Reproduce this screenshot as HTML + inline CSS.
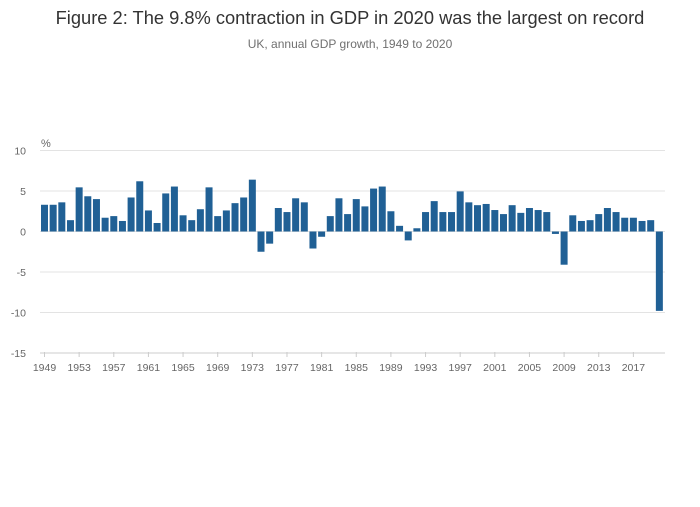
<!DOCTYPE html>
<html><head><meta charset="utf-8"><style>
body{margin:0;background:#fff;font-family:"Liberation Sans",sans-serif}
</style></head><body>
<svg id="c" width="700" height="502" xmlns="http://www.w3.org/2000/svg">
<text x="350" y="24" text-anchor="middle" font-size="18.3" fill="#333">Figure 2: The 9.8% contraction in GDP in 2020 was the largest on record</text>
<text x="350" y="48" text-anchor="middle" font-size="12" fill="#707070">UK, annual GDP growth, 1949 to 2020</text>
<text x="41" y="147" font-size="11" fill="#666">%</text>
<g id="grid"></g><g id="bars"></g><g id="xaxis"></g>
</svg>
<script>
const years=[];for(let y=1949;y<=2020;y++)years.push(y);
const growth=[3.3,3.3,3.6,1.4,5.45,4.35,4.0,1.7,1.9,1.3,4.2,6.2,2.6,1.05,4.7,5.55,2.0,1.4,2.75,5.45,1.9,2.6,3.5,4.2,6.4,-2.5,-1.5,2.9,2.4,4.1,3.6,-2.1,-0.65,1.9,4.1,2.15,4.0,3.1,5.3,5.55,2.5,0.7,-1.1,0.4,2.4,3.75,2.4,2.4,4.95,3.6,3.25,3.4,2.65,2.15,3.25,2.3,2.9,2.65,2.4,-0.3,-4.1,2.0,1.3,1.4,2.15,2.9,2.4,1.7,1.7,1.3,1.4,-9.8];
const yTicks=[10,5,0,-5,-10,-15];
const NS="http://www.w3.org/2000/svg";
const yS=v=>231.5-v*8.1;
const x0=44.5,step=8.66;
const xS=i=>x0+i*step;
const mk=(t,a,p)=>{const e=document.createElementNS(NS,t);for(const k in a)e.setAttribute(k,a[k]);p.appendChild(e);return e;};
const grid=document.getElementById('grid'),bars=document.getElementById('bars'),xa=document.getElementById('xaxis');
yTicks.forEach(v=>{
 const l=mk('line',{x1:40,x2:665,y1:yS(v),y2:yS(v),stroke:v===-15?'#ccc':'#e3e3e3','stroke-width':1},grid);
 
 
 const t=mk('text',{x:26,y:yS(v)+4,'text-anchor':'end','font-size':10.5,fill:'#666'},grid);
 t.textContent=v;
 
 
});
growth.forEach((v,i)=>{
 const top=Math.min(yS(v),yS(0)),h=Math.abs(yS(v)-yS(0));
 const r=mk('rect',{x:xS(i)-3.5,y:top,width:7,height:h,fill:'#206095'},bars);
 
 
});
years.forEach((y,i)=>{
 if((y-1949)%4===0){
  const tk=mk('line',{x1:xS(i),x2:xS(i),y1:352,y2:357,stroke:'#ccc'},xa);
  
  
  const t=mk('text',{x:xS(i),y:371,'text-anchor':'middle','font-size':10.5,fill:'#666'},xa);
  t.textContent=y;
  
  
 }
});
</script>
</body></html>
